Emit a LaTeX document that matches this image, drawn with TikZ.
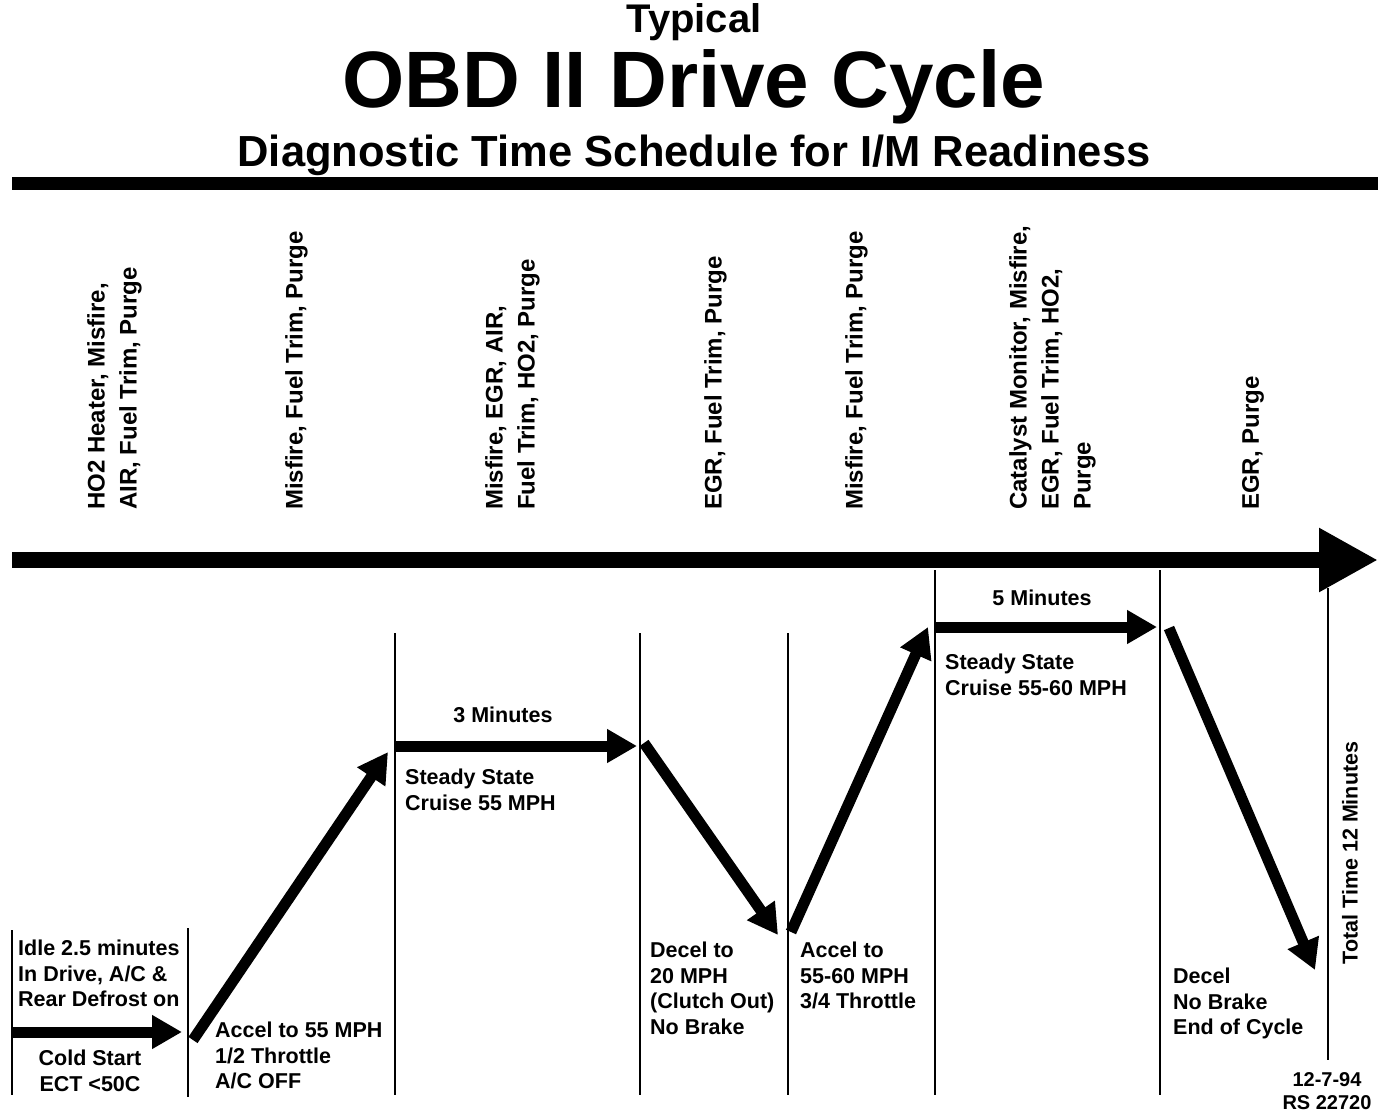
\documentclass[tikz,border=0pt]{standalone}
\usepackage{fontspec}
\setmainfont{Liberation Sans}
\usetikzlibrary{arrows.meta}
\begin{document}
\begin{tikzpicture}[x=1pt,y=-1pt,
  lbl/.style={inner sep=0pt, align=left, font=\bfseries\fontsize{21.5}{25.5}\selectfont, anchor=north west},
  clbl/.style={inner sep=0pt, align=center, font=\bfseries\fontsize{21.5}{25.5}\selectfont, anchor=north},
  vlbl/.style={inner sep=0pt, align=left, font=\bfseries\fontsize{24}{32}\selectfont, rotate=90, anchor=north west},
  guide/.style={line width=2.6pt},
  flow/.style={line width=11pt, -{Triangle[length=30pt,width=32pt]}},
  bigflow/.style={line width=16pt, -{Triangle[length=59pt,width=60pt]}},
]
\useasboundingbox (0,0) rectangle (1392,1116);

% titles
\node[inner sep=0pt, anchor=base, font=\bfseries\fontsize{40}{44}\selectfont] (t1) at (694,33) {Typical};
\node[inner sep=0pt, anchor=base, font=\bfseries\fontsize{80}{84}\selectfont] (t2) at (694,107) {OBD II Drive Cycle};
\node[inner sep=0pt, anchor=base, font=\bfseries\fontsize{43.5}{48}\selectfont] (t3) at (694,166) {Diagnostic Time Schedule for I/M Readiness};

\coordinate (r1) at (12,183);
\coordinate (r2) at (1378,183);
\draw[line width=13pt] (r1) -- (r2);

% timeline
\coordinate (tls) at (12,560);
\coordinate (tle) at (1378,560);
\draw[bigflow] (tls) -- (tle);

% vertical monitor labels
\node[vlbl] (v1) at (87,510) {HO2 Heater, Misfire,\\AIR, Fuel Trim, Purge};
\node[vlbl] (v2) at (285,510) {Misfire, Fuel Trim, Purge};
\node[vlbl] (v3) at (485,510) {Misfire, EGR, AIR,\\Fuel Trim, HO2, Purge};
\node[vlbl] (v4) at (704,510) {EGR, Fuel Trim, Purge};
\node[vlbl] (v5) at (845,510) {Misfire, Fuel Trim, Purge};
\node[vlbl] (v6) at (1009,510) {Catalyst Monitor, Misfire,\\EGR, Fuel Trim, HO2,\\Purge};
\node[vlbl] (v7) at (1242,510) {EGR, Purge};

% guide lines
\draw[guide] (12,930) -- (12,1095);
\draw[guide] (188,928) -- (188,1097);
\draw[guide] (395,633) -- (395,1095);
\draw[guide] (640,633) -- (640,1095);
\draw[guide] (788,633) -- (788,1095);
\draw[guide] (935,570) -- (935,1095);
\draw[guide] (1160,570) -- (1160,1095);
\draw[guide] (1328,588) -- (1328,1060);

% speed trace
\coordinate (a1s) at (12,1032);  \coordinate (a1e) at (182,1032);
\coordinate (a2s) at (193,1040); \coordinate (a2e) at (388,752);
\coordinate (a3s) at (395,746);  \coordinate (a3e) at (637,746);
\coordinate (a4s) at (644,743);  \coordinate (a4e) at (778,935);
\coordinate (a5s) at (791,932);  \coordinate (a5e) at (928,627);
\coordinate (a6s) at (935,627);  \coordinate (a6e) at (1157,627);
\coordinate (a7s) at (1169,628); \coordinate (a7e) at (1315,970);
\draw[flow] (a1s) -- (a1e);
\draw[flow] (a2s) -- (a2e);
\draw[flow] (a3s) -- (a3e);
\draw[flow] (a4s) -- (a4e);
\draw[flow] (a5s) -- (a5e);
\draw[flow] (a6s) -- (a6e);
\draw[flow] (a7s) -- (a7e);

% labels
\node[lbl] (idle) at (18,940) {Idle 2.5 minutes\\In Drive, A/C \&\\Rear Defrost on};
\node[clbl] (cold) at (90,1050) {Cold Start\\ECT <50C};
\node[lbl] (acc1) at (215,1022) {Accel to 55 MPH\\1/2 Throttle\\A/C OFF};
\node[clbl] (m3) at (503,707) {3 Minutes};
\node[lbl] (ss1) at (405,769) {Steady State\\Cruise 55 MPH};
\node[lbl] (dec1) at (650,942) {Decel to\\20 MPH\\(Clutch Out)\\No Brake};
\node[lbl] (acc2) at (800,942) {Accel to\\55-60 MPH\\3/4 Throttle};
\node[clbl] (m5) at (1042,590) {5 Minutes};
\node[lbl] (ss2) at (945,654) {Steady State\\Cruise 55-60 MPH};
\node[lbl] (dec2) at (1173,968) {Decel\\No Brake\\End of Cycle};
\node[inner sep=0pt, font=\bfseries\fontsize{21.5}{25.5}\selectfont, rotate=90] (total) at (1350,853) {Total Time 12 Minutes};
\node[inner sep=0pt, align=center, anchor=north, font=\bfseries\fontsize{20}{23}\selectfont] (date) at (1327,1072) {12-7-94\\RS 22720};
\end{tikzpicture}
\end{document}
